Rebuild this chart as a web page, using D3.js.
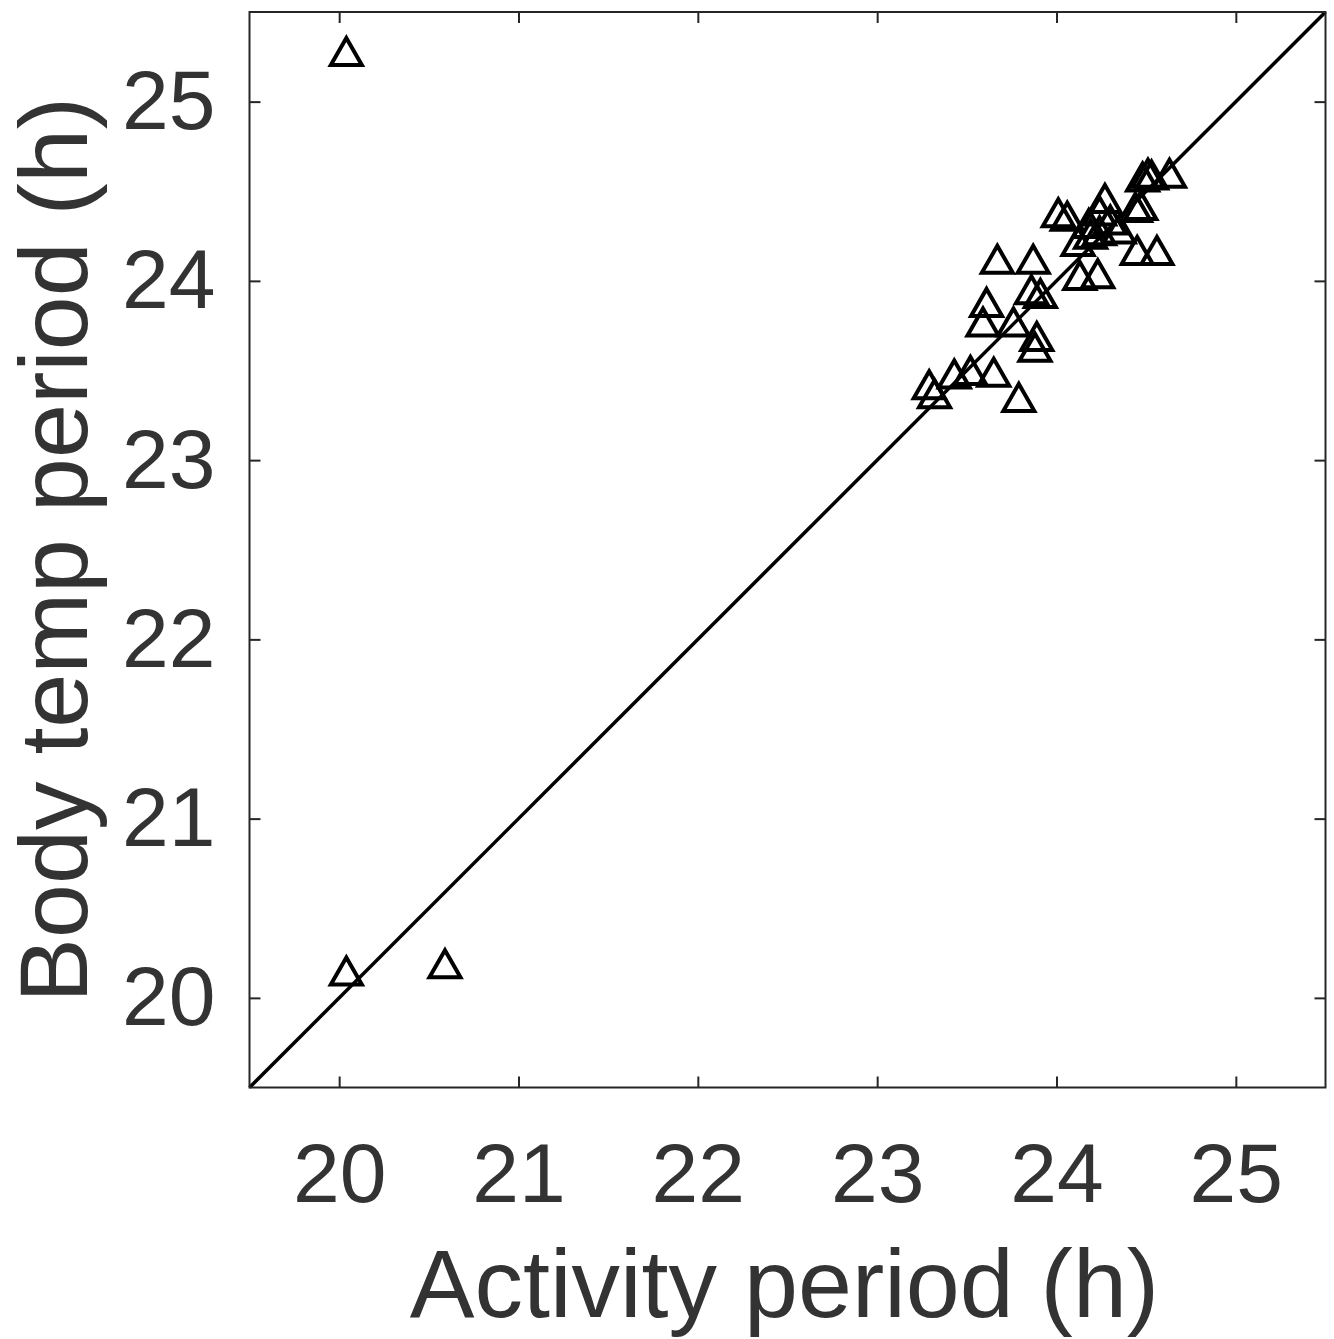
<!DOCTYPE html>
<html>
<head>
<meta charset="utf-8">
<script src="https://cdn.jsdelivr.net/npm/d3@7"></script>
<style>
  html, body { margin: 0; padding: 0; background: #fff; }
  svg { display: block; }
  text { font-family: "Liberation Sans", Arial, Helvetica, sans-serif; }
</style>
</head>
<body>
<svg id="chart" width="1334" height="1339"></svg>
<script>
// ---- Data (periods in hours) ----
const activityPeriod = [
  20.04, 20.04, 20.59,
  23.29, 23.32, 23.43, 23.52, 23.65, 23.79,
  23.61, 23.59, 23.76, 23.67, 23.87, 23.86, 23.91, 23.89, 23.88,
  24.01, 24.06, 24.13, 24.23, 24.12, 24.18, 24.27, 24.24, 24.35, 24.30,
  24.45, 24.56, 24.47, 24.51, 24.48, 24.63, 24.19, 24.24, 24.44, 24.53
];
const bodyTempPeriod = [
  25.28, 20.15, 20.19,
  23.42, 23.37, 23.48, 23.50, 23.49, 23.35,
  23.88, 23.77, 23.77, 24.12, 24.12, 23.95, 23.93, 23.69, 23.63,
  24.38, 24.36, 24.03, 24.04, 24.22, 24.32, 24.46, 24.39, 24.29, 24.34,
  24.17, 24.17, 24.42, 24.60, 24.58, 24.60, 24.26, 24.28, 24.41, 24.59
];
const xDomain = [19.5, 25.5];
const yDomain = [19.5, 25.5];
const tickValues = [20, 21, 22, 23, 24, 25];
const xLabel = "Activity period (h)";
const yLabel = "Body temp period (h)";

// ---- Layout ----
const svg = d3.select("#chart");
const L = 249.5, R = 1325.5, T = 12, B = 1087.5;
const x = d3.scaleLinear().domain(xDomain).range([L, R]);
const y = d3.scaleLinear().domain(yDomain).range([B, T]);
const axisColor = "#262626";
const textColor = "#333333";
const tickFont = 84;

// identity line
svg.append("line")
  .attr("x1", x(xDomain[0])).attr("y1", y(yDomain[0]))
  .attr("x2", x(xDomain[1])).attr("y2", y(yDomain[1]))
  .attr("stroke", "#000").attr("stroke-width", 3.5);

// markers (open triangles)
const tw = 31, th = 27;
const tri = `M0,${-th/2}L${tw/2},${th/2}L${-tw/2},${th/2}Z`;
svg.append("g").selectAll("path")
  .data(activityPeriod.map((v, i) => [v, bodyTempPeriod[i]]))
  .join("path")
  .attr("d", tri)
  .attr("transform", d => `translate(${x(d[0])},${y(d[1])})`)
  .attr("fill", "none")
  .attr("stroke", "#000")
  .attr("stroke-width", 4)
  .attr("stroke-linejoin", "miter");

// axes
function styleAxis(g) {
  g.select(".domain").remove();
  g.selectAll(".tick line").attr("stroke", axisColor).attr("stroke-width", 2);
  g.selectAll(".tick text").attr("fill", textColor).attr("font-size", tickFont);
}
svg.append("g").attr("transform", `translate(0,${B})`)
  .call(d3.axisBottom(x).tickValues(tickValues).tickSizeInner(-11).tickSizeOuter(0).tickPadding(55).tickFormat(d3.format("d")))
  .call(styleAxis);
svg.append("g").attr("transform", `translate(0,${T})`)
  .call(d3.axisTop(x).tickValues(tickValues).tickSizeInner(-11).tickSizeOuter(0).tickFormat(""))
  .call(styleAxis);
svg.append("g").attr("transform", `translate(${L},0)`)
  .call(d3.axisLeft(y).tickValues(tickValues).tickSizeInner(-11).tickSizeOuter(0).tickPadding(34).tickFormat(d3.format("d")))
  .call(styleAxis);
svg.append("g").attr("transform", `translate(${R},0)`)
  .call(d3.axisRight(y).tickValues(tickValues).tickSizeInner(-11).tickSizeOuter(0).tickFormat(""))
  .call(styleAxis);

// frame
svg.append("rect")
  .attr("x", L).attr("y", T).attr("width", R - L).attr("height", B - T)
  .attr("fill", "none").attr("stroke", axisColor).attr("stroke-width", 2);

// axis labels
svg.append("text")
  .attr("x", (L + R) / 2 - 3).attr("y", 1317)
  .attr("text-anchor", "middle")
  .attr("font-size", 97).attr("fill", textColor)
  .text(xLabel);
svg.append("text")
  .attr("transform", `translate(87,${(T + B) / 2}) rotate(-90)`)
  .attr("text-anchor", "middle")
  .attr("font-size", 97).attr("fill", textColor)
  .text(yLabel);
</script>
</body>
</html>
